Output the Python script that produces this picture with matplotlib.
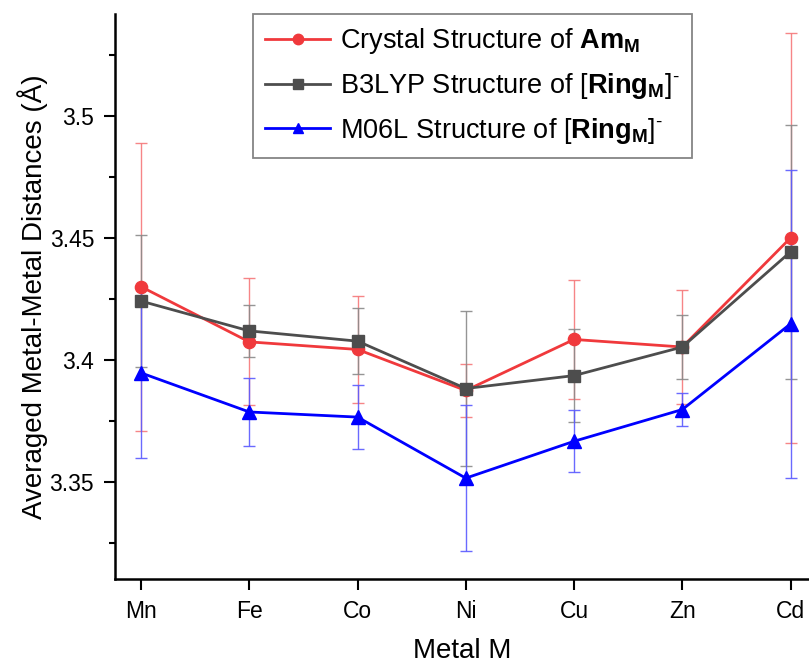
import matplotlib
matplotlib.use("Agg")
import matplotlib.pyplot as plt
from matplotlib.ticker import MultipleLocator

plt.rcParams["font.family"] = ["Liberation Sans", "DejaVu Sans"]
plt.rcParams["mathtext.fontset"] = "custom"
plt.rcParams["mathtext.rm"] = "Liberation Sans"
plt.rcParams["mathtext.bf"] = "Liberation Sans:bold"
plt.rcParams["mathtext.it"] = "Liberation Sans:italic"

metals = ["Mn", "Fe", "Co", "Ni", "Cu", "Zn", "Cd"]

crystal = [3.430, 3.4074, 3.4043, 3.3875, 3.4084, 3.4053, 3.4500]
crystal_err = [0.059, 0.026, 0.022, 0.011, 0.0245, 0.0235, 0.084]

b3lyp = [3.4241, 3.4119, 3.4077, 3.3883, 3.3936, 3.4053, 3.4443]
b3lyp_err = [0.027, 0.0105, 0.0136, 0.0318, 0.019, 0.013, 0.052]

m06l = [3.3947, 3.3787, 3.3766, 3.3516, 3.3667, 3.3797, 3.4148]
m06l_err = [0.035, 0.014, 0.013, 0.030, 0.0127, 0.0068, 0.063]

labels = [
    r"Crystal Structure of $\mathbf{Am_M}$",
    r"B3LYP Structure of [$\mathbf{Ring_M}$]$^{\text{-}}$",
    r"M06L Structure of [$\mathbf{Ring_M}$]$^{\text{-}}$",
]

fig = plt.figure(figsize=(8.09, 6.63), dpi=100)
ax = fig.add_axes([0.1422, 0.1267, 0.8578, 0.8523])

x = list(range(len(metals)))
series = [
    (crystal, crystal_err, "#f0393c", "#f5787a", "o", 8.8),
    (b3lyp, b3lyp_err, "#4d4d4d", "#8a8a8a", "s", 8.3),
    (m06l, m06l_err, "#0000ff", "#5a5aff", "^", 10.5),
]
for (y, e, c, ec, m, ms), lab in zip(series, labels):
    ax.errorbar(x, y, yerr=e, fmt="none", ecolor=ec, elinewidth=1.0,
                capsize=4, capthick=1.0, alpha=0.9, zorder=2)
    ax.plot(x, y, "-", color=c, lw=2.0, marker=m, ms=ms,
            mec=c, mfc=c, label=lab, zorder=3)

ax.set_xlim(-0.24, 6.17)
ax.set_ylim(3.3103, 3.5417)
ax.set_xticks(x)
ax.set_xticklabels(metals)
ax.yaxis.set_minor_locator(MultipleLocator(0.025))
ax.set_yticks([3.35, 3.4, 3.45, 3.5])
ax.set_yticklabels(["3.35", "3.4", "3.45", "3.5"])

ax.tick_params(axis="both", which="major", direction="out", length=8,
               width=1.5, labelsize=16.5, pad=7)
ax.tick_params(axis="y", which="minor", direction="out", length=4.5, width=1.5)
for s in ["top", "right"]:
    ax.spines[s].set_visible(False)
for s in ["left", "bottom"]:
    ax.spines[s].set_linewidth(1.8)

ax.set_xlabel("Metal M", fontsize=20, labelpad=11)
ax.set_ylabel("Averaged Metal-Metal Distances (Å)", fontsize=20, labelpad=1)

leg = ax.legend(loc="upper left", bbox_to_anchor=(0.199, 1.0), fontsize=19.5,
                frameon=True, fancybox=False, edgecolor="#666666",
                handlelength=2.4, labelspacing=0.55, borderpad=0.45,
                handletextpad=0.35, borderaxespad=0.0)
leg.get_frame().set_linewidth(1.3)
for h in leg.legend_handles:
    h.set_markersize(7.5)

fig.savefig("out.png", dpi=100)
